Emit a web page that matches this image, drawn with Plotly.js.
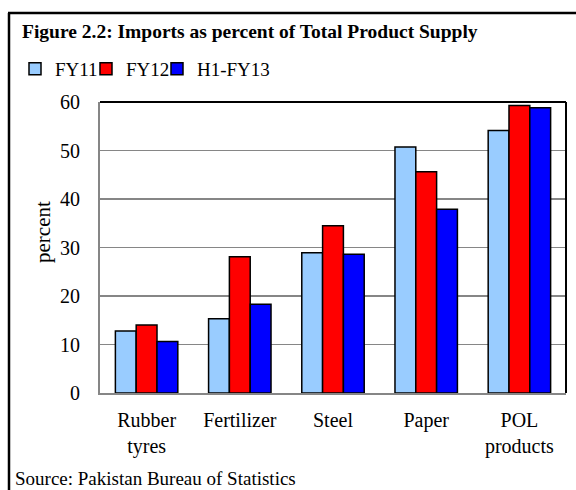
<!DOCTYPE html>
<html>
<head>
<meta charset="utf-8">
<script src="https://cdn.plot.ly/plotly-3.0.1.min.js"></script>
<style>html,body{margin:0;padding:0;background:#fff;}#chart{width:576px;height:490px;}</style>
</head>
<body>
<div id="chart"></div>
<script>
var categories = ["Rubber<br>tyres", "Fertilizer", "Steel", "Paper", "POL<br>products"];
var fy11 = [12.8, 15.3, 28.9, 50.7, 54.1];
var fy12 = [14.0, 28.1, 34.5, 45.6, 59.3];
var h1fy13 = [10.6, 18.3, 28.6, 37.9, 58.8];
var seriesNames = ["FY11", "FY12", "H1-FY13"];
var yTicks = [0, 10, 20, 30, 40, 50, 60];

var L = 100, R = 566, T = 102, B = 393;
function px(x){ return (x - L) / (R - L); }
function py(y){ return (B - y) / (B - T); }

var font = "Liberation Serif";
var colors = ["#99CCFF", "#FF0000", "#0000FF"];
var legendIds = ["legend", "legend2", "legend3"];
var legendLeft = [15, 86, 157];
var data = [fy11, fy12, h1fy13].map(function(v, i){
  return {type: "bar", name: seriesNames[i], x: categories, y: v, legend: legendIds[i],
    marker: {color: colors[i], line: {color: "#000", width: 1.5}}};
});

var layout = {
  width: 576, height: 490,
  margin: {l: L, r: 576 - R, t: T, b: 490 - B},
  paper_bgcolor: "#fff", plot_bgcolor: "#fff",
  font: {family: font, size: 20, color: "#000"},
  barmode: "group", bargap: 0.33, bargroupgap: 0,
  showlegend: true,
  xaxis: {showline: true, linecolor: "#868686", linewidth: 2, ticks: "", fixedrange: true,
    tickfont: {family: font, size: 20}, ticklabelstandoff: 8},
  yaxis: {range: [0, 60], tickvals: yTicks, showgrid: true, gridcolor: "#868686", gridwidth: 1.5,
    showline: true, linecolor: "#868686", linewidth: 2, ticks: "", zeroline: false,
    tickfont: {family: font, size: 20}, ticklabelstandoff: 14},
  shapes: [
    {type: "line", xref: "paper", yref: "paper", x0: 0, x1: 1, y0: 1, y1: 1, line: {color: "#000", width: 2}},
    {type: "line", xref: "paper", yref: "paper", x0: 1, x1: 1, y0: 0, y1: 1, line: {color: "#000", width: 2}},
    {type: "line", xref: "paper", yref: "paper", x0: px(8), x1: px(576), y0: py(13), y1: py(13), line: {color: "#000", width: 2.5}},
    {type: "line", xref: "paper", yref: "paper", x0: px(9), x1: px(9), y0: py(13), y1: py(495), line: {color: "#000", width: 2.5}}
  ],
  annotations: [
    {text: "<b>Figure 2.2: Imports as percent of Total Product Supply</b>", xref: "paper", yref: "paper",
      x: px(20), xanchor: "left", y: py(32), yanchor: "middle", showarrow: false,
      font: {family: font, size: 19.5, color: "#000"}},
    {text: "percent", xref: "paper", yref: "paper", textangle: -90,
      x: px(43), xanchor: "center", y: py(232), yanchor: "middle", showarrow: false,
      font: {family: font, size: 21, color: "#000"}},
    {text: "Source: Pakistan Bureau of Statistics", xref: "paper", yref: "paper",
      x: px(13), xanchor: "left", y: py(478), yanchor: "middle", showarrow: false,
      font: {family: font, size: 19, color: "#000"}}
  ]
};
legendIds.forEach(function(id, i){
  layout[id] = {orientation: "h", x: px(legendLeft[i]), xanchor: "left", y: py(69), yanchor: "middle",
    font: {family: font, size: 19, color: "#000"}, itemwidth: 30,
    bgcolor: "rgba(0,0,0,0)"};
});
Plotly.newPlot("chart", data, layout, {displayModeBar: false, staticPlot: true});
</script>
</body>
</html>
